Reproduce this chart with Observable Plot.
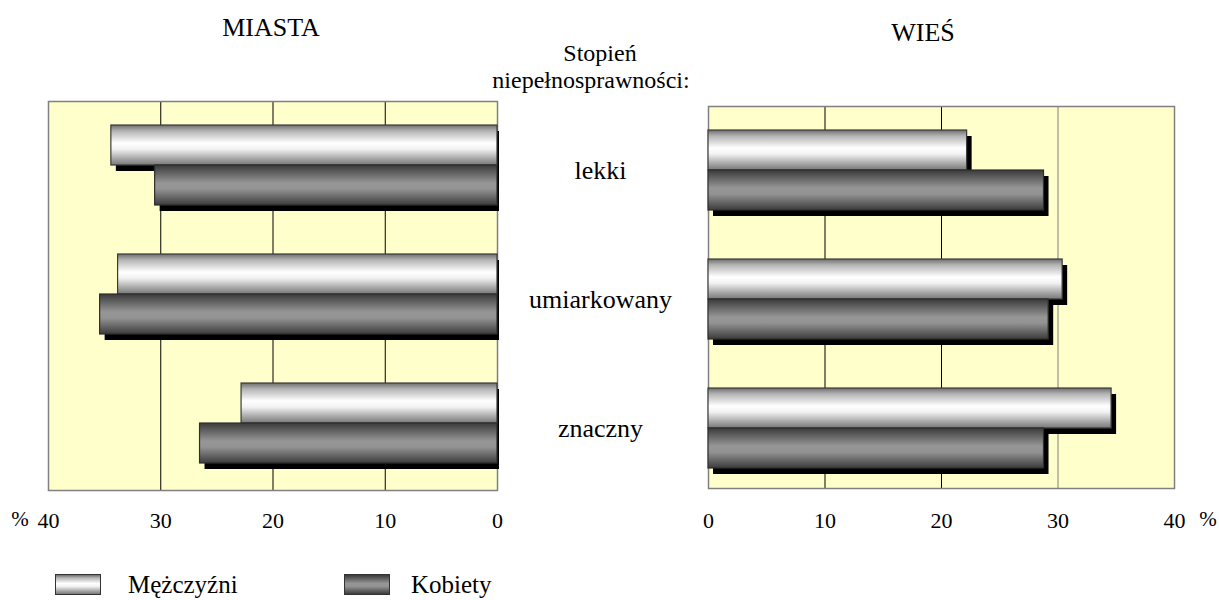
<!DOCTYPE html>
<html>
<head>
<meta charset="utf-8">
<script src="https://cdn.jsdelivr.net/npm/d3@7"></script>
<script src="https://cdn.jsdelivr.net/npm/@observablehq/plot@0.6"></script>
<style>
  body { margin: 0; background: #fff; }
  #wrap { position: relative; width: 1219px; height: 600px; overflow: hidden;
          font-family: "Liberation Serif", "Times New Roman", serif; color: #000; background: #fff; }
  .lbl { position: absolute; white-space: nowrap; line-height: 1; }
  .plot { position: absolute; top: 0; }
  .sw { position: absolute; box-sizing: border-box; border: 1px solid #333; }
</style>
</head>
<body>
<div id="wrap"></div>
<script>
// ---- data ----
const categories = ["lekki", "umiarkowany", "znaczny"];
const seriesNames = ["Mężczyźni", "Kobiety"];
const miastaMen   = [34.4, 33.8, 22.8];
const miastaWomen = [30.5, 35.4, 26.5];
const wiesMen     = [22.2, 30.4, 34.6];
const wiesWomen   = [28.8, 29.2, 28.8];
const tickValues  = [0, 10, 20, 30, 40];
const panelTitles = ["MIASTA", "WIEŚ"];
const headerLines = ["Stopień", "niepełnosprawności:"];

const wrap = document.getElementById("wrap");

// shared gradient definitions
const defs = document.createElementNS("http://www.w3.org/2000/svg", "svg");
defs.setAttribute("width", 0); defs.setAttribute("height", 0);
defs.style.position = "absolute";
defs.innerHTML = `
<defs>
  <linearGradient id="gM" x1="0" y1="0" x2="0" y2="1">
    <stop offset="0" stop-color="#6e6e6e"/>
    <stop offset="0.15" stop-color="#b4b4b4"/>
    <stop offset="0.45" stop-color="#ffffff"/>
    <stop offset="0.6" stop-color="#f2f2f2"/>
    <stop offset="0.85" stop-color="#a4a4a4"/>
    <stop offset="1" stop-color="#787878"/>
  </linearGradient>
  <linearGradient id="gK" x1="0" y1="0" x2="0" y2="1">
    <stop offset="0" stop-color="#3a3a3a"/>
    <stop offset="0.45" stop-color="#969696"/>
    <stop offset="0.6" stop-color="#939393"/>
    <stop offset="1" stop-color="#3c3c3c"/>
  </linearGradient>
</defs>`;
wrap.appendChild(defs);

function rowsOf(men, women) {
  return categories.map((c, i) => ({cat: c, men: men[i], women: women[i]}));
}

function panel({men, women, reverse, left, width, marginLeft, marginRight, marginTop, marginBottom,
                yRange, tickPadding, blackRules, greyRules, shadowInsetRight, extraMarks}) {
  const rows = rowsOf(men, women);
  const plot = Plot.plot({
    width, height: 545,
    marginLeft, marginRight, marginTop, marginBottom,
    style: {fontFamily: '"Liberation Serif", "Times New Roman", serif', fontSize: "22px", color: "#000", background: "transparent"},
    x: {domain: [0, 40], reverse, axis: null},
    y: {domain: categories, range: yRange, paddingInner: 49 / 129, paddingOuter: 0, axis: null},
    marks: [
      Plot.frame({fill: "#FFFFCC", stroke: "none"}),
      Plot.ruleX(blackRules, {stroke: "#000", strokeWidth: 1}),
      Plot.ruleX(greyRules, {stroke: "#808080", strokeWidth: 1}),
      Plot.frame({stroke: "#808080", strokeWidth: 1.5}),
      Plot.barX(rows, {x: "men", y: "cat", insetBottom: 40, fill: "#000", dx: 5, dy: 6, insetRight: shadowInsetRight}),
      Plot.barX(rows, {x: "women", y: "cat", insetTop: 40, fill: "#000", dx: 5, dy: 6, insetRight: shadowInsetRight}),
      Plot.barX(rows, {x: "men", y: "cat", insetBottom: 40, fill: "url(#gM)", stroke: "#3a3a3a", strokeWidth: 1.2}),
      Plot.barX(rows, {x: "women", y: "cat", insetTop: 40, fill: "url(#gK)", stroke: "#2e2e2e", strokeWidth: 1.2}),
      Plot.axisX({ticks: tickValues, tickSize: 0, tickPadding, fontSize: 22, tickFormat: d => String(d), label: null}),
      ...(extraMarks || [])
    ]
  });
  plot.classList.add("plot");
  plot.style.left = left + "px";
  wrap.appendChild(plot);
  return plot;
}

// MIASTA (left, reversed axis)
panel({
  men: miastaMen, women: miastaWomen, reverse: true,
  left: 0, width: 520, marginLeft: 48, marginRight: 23, marginTop: 101, marginBottom: 55,
  yRange: [125, 463], tickPadding: 22, blackRules: [10, 20, 30], greyRules: [],
  shadowInsetRight: 3
});

// WIEŚ (right)
panel({
  men: wiesMen, women: wiesWomen, reverse: false,
  left: 520, width: 699, marginLeft: 188, marginRight: 45, marginTop: 106, marginBottom: 57,
  yRange: [130, 468], tickPadding: 24, blackRules: [10, 20], greyRules: [30],
  shadowInsetRight: 0,
  extraMarks: [
    Plot.text(categories, {x: () => 0, y: d => d, dx: -108, textAnchor: "middle", lineAnchor: "middle", fontSize: 26, fill: "#000"})
  ]
});

// HTML texts
function label(text, x, baseline, size, anchor = "middle") {
  const d = document.createElement("div");
  d.className = "lbl";
  d.textContent = text;
  d.style.fontSize = size + "px";
  d.style.top = (baseline - 0.8375 * size) + "px";
  d.style.left = x + "px";
  if (anchor === "middle") d.style.transform = "translateX(-50%)";
  wrap.appendChild(d);
  return d;
}
label(panelTitles[0], 271, 37, 26);
label(panelTitles[1], 923, 42, 26);
label(headerLines[0], 600, 61, 24);
label(headerLines[1], 591, 88, 24);
label("%", 20, 527, 21);
label("%", 1208, 527, 21);

// legend
function swatch(x, grad) {
  const s = document.createElement("div");
  s.className = "sw";
  s.style.left = x + "px"; s.style.top = "574px"; s.style.width = "46px"; s.style.height = "21px";
  s.style.background = grad;
  wrap.appendChild(s);
}
swatch(55, "linear-gradient(to bottom,#6e6e6e 0%,#b4b4b4 15%,#fff 45%,#f2f2f2 60%,#a4a4a4 85%,#787878 100%)");
label(seriesNames[0], 128, 593, 25, "start");
swatch(344, "linear-gradient(to bottom,#3a3a3a 0%,#969696 45%,#939393 60%,#3c3c3c 100%)");
label(seriesNames[1], 411, 593, 25, "start");
</script>
</body>
</html>
